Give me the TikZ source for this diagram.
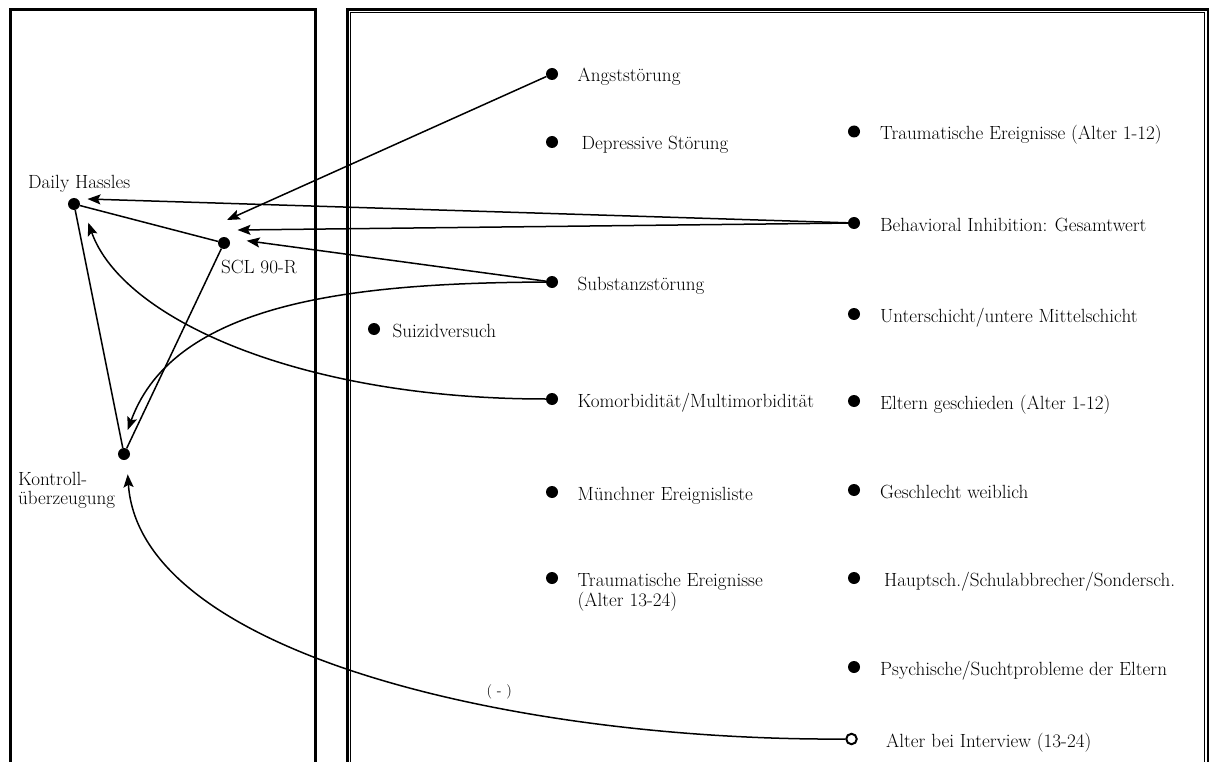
\documentclass[tikz,border=0pt]{standalone}
\usetikzlibrary{arrows.meta}
\begin{document}
\begin{tikzpicture}[x=1pt,y=-1pt,
  dot/.style={circle,fill=black,inner sep=0pt,minimum size=12pt},
  hollow/.style={circle,draw=black,line width=2pt,fill=white,inner sep=0pt,minimum size=10.5pt},
  lbl/.style={anchor=base west,inner sep=0pt,font=\fontsize{19.1}{22}\selectfont},
  small/.style={anchor=base west,inner sep=0pt,font=\fontsize{14.5}{16}\selectfont},
  link/.style={line width=1.5pt},
  arr/.style={line width=1.5pt,-{Stealth[length=13pt,width=10pt,inset=2.5pt]}},
  frame/.style={line width=2.5pt},
  thinframe/.style={line width=1.3pt},
]
\useasboundingbox (0,0) rectangle (1215,762);
\clip (0,0) rectangle (1215,762);

% panels (open at the bottom)
\draw[frame] (10.7,800) -- (10.7,9.5) -- (315.3,9.5) -- (315.3,800);
\draw[frame] (347.3,800) -- (347.3,9.3) -- (1208,9.3) -- (1208,800);
\draw[thinframe] (350.7,800) -- (350.7,12.7) -- (1204.8,12.7) -- (1204.8,800);

% left panel: mediators
\node[dot] (dh)  at (74,204) {};
\node[dot] (scl) at (224,243) {};
\node[dot] (kon) at (124,454) {};
\node[lbl] (dhL)  at (28,188.3) {Daily Hassles};
\node[lbl] (sclL) at (221,273.3) {SCL 90-R};
\node[lbl] (konL1) at (18,485.3) {Kontroll-};
\node[lbl] (konL2) at (18,504.3) {überzeugung};

% middle column
\node[dot] (ang) at (552,74) {};
\node[dot] (dep) at (552,142) {};
\node[dot] (sub) at (552,282) {};
\node[dot] (sui) at (374,329) {};
\node[dot] (kom) at (552,399) {};
\node[dot] (mel) at (552,492) {};
\node[dot] (t13) at (552,578) {};
\node[lbl] (angL) at (577.5,82) {Angststörung};
\node[lbl] (depL) at (581.5,150) {Depressive Störung};
\node[lbl] (subL) at (577.5,290) {Substanzstörung};
\node[lbl] (suiL) at (392.5,337) {Suizidversuch};
\node[lbl] (komL) at (577.5,407) {Komorbidität/Multimorbidität};
\node[lbl] (melL) at (577.5,500) {Münchner Ereignisliste};
\node[lbl] (t13L1) at (577.5,586) {Traumatische Ereignisse};
\node[lbl] (t13L2) at (577.5,606) {(Alter 13-24)};

% right column
\node[dot] (t1)  at (854,131.5) {};
\node[dot] (bi)  at (854,223) {};
\node[dot] (uss) at (854,314) {};
\node[dot] (elt) at (854,401) {};
\node[dot] (gew) at (854,490) {};
\node[dot] (hsa) at (854,578) {};
\node[dot] (pse) at (854,667) {};
\node[hollow] (age) at (851.5,739) {};
\node[lbl] (t1L)  at (880,139.5) {Traumatische Ereignisse (Alter 1-12)};
\node[lbl] (biL)  at (880,231) {Behavioral Inhibition: Gesamtwert};
\node[lbl] (ussL) at (880,322) {Unterschicht/untere Mittelschicht};
\node[lbl] (eltL) at (880,409) {Eltern geschieden (Alter 1-12)};
\node[lbl] (gewL) at (880,498) {Geschlecht weiblich};
\node[lbl] (hsaL) at (884,586) {Hauptsch./Schulabbrecher/Sondersch.};
\node[lbl] (pseL) at (880,675) {Psychische/Suchtprobleme der Eltern};
\node[lbl] (ageL) at (886,747) {Alter bei Interview (13-24)};

% arrow targets beside the mediators
\coordinate (dhB)  at (87.5,199);
\coordinate (dhK)  at (88.3,222.7);
\coordinate (sclA) at (227,220);
\coordinate (sclB) at (237.5,230);
\coordinate (sclS) at (246.7,240.7);
\coordinate (konS) at (127.7,430);
\coordinate (konA) at (127.7,474.3);

% links among mediators
\draw[link] (dh) -- (scl);
\draw[link] (dh) -- (kon);
\draw[link] (scl) -- (kon);

% straight paths
\draw[arr] (ang) -- (sclA);
\draw[arr] (bi) -- (dhB);
\draw[arr] (bi) -- (sclB);
\draw[arr] (sub) -- (sclS);

% curved paths
\draw[arr] (sub) .. controls (360,283) and (175,300) .. (konS);
\draw[arr] (kom) .. controls (300,399) and (122,318.7) .. (dhK);
\draw[arr] (age) .. controls (520,741) and (140,655) .. (konA);
\node[small] (neg) at (486.5,695) {( - )};
\end{tikzpicture}
\end{document}
